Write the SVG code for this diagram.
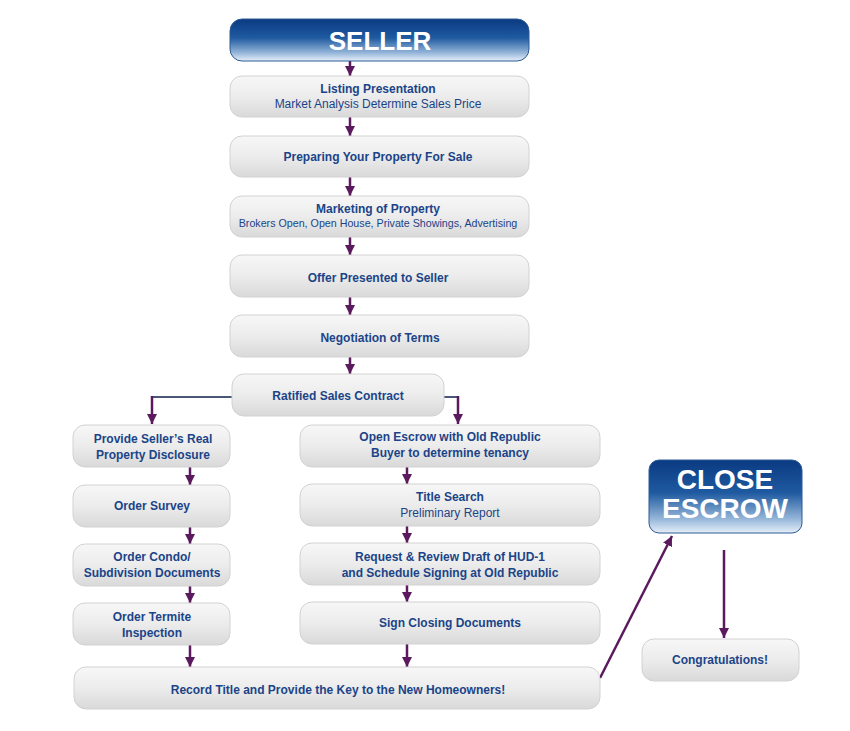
<svg xmlns="http://www.w3.org/2000/svg" width="850" height="731" viewBox="0 0 850 731">
<defs>
<linearGradient id="gray" x1="0" y1="0" x2="0" y2="1">
<stop offset="0" stop-color="#f7f7f7"/>
<stop offset="0.5" stop-color="#ececec"/>
<stop offset="1" stop-color="#d9d9d9"/>
</linearGradient>
<linearGradient id="blue" x1="0" y1="0" x2="0" y2="1">
<stop offset="0" stop-color="#0a3a82"/>
<stop offset="0.45" stop-color="#1f5aa0"/>
<stop offset="0.8" stop-color="#93b4d8"/>
<stop offset="1" stop-color="#e6eff8"/>
</linearGradient>
<marker id="ah" markerUnits="userSpaceOnUse" viewBox="0 0 10 10" refX="10" refY="5" markerWidth="10" markerHeight="11" orient="auto">
<path d="M0,0 L10,5 L0,10 z" fill="#5b1a5e"/>
</marker>
<style>
.box{fill:url(#gray);stroke:#d2d2d2;stroke-width:1}
.bbox{fill:url(#blue);stroke:#2d5a96;stroke-width:1}
.t{font-family:"Liberation Sans",Arial,sans-serif;font-size:12px;fill:#1b4488;text-anchor:middle}
.s{font-size:10.7px}
.b{font-weight:bold}
.big{font-family:"Liberation Sans",Arial,sans-serif;font-weight:bold;fill:#ffffff;text-anchor:middle}
.arr{stroke:#5b1a5e;stroke-width:2.5;fill:none;marker-end:url(#ah)}
.hl{stroke:#4a5778;stroke-width:2;fill:none}
</style>
</defs>
<rect width="850" height="731" fill="#ffffff"/>

<g id="connectors">
<line class="arr" x1="350" y1="61" x2="350" y2="76"/>
<line class="arr" x1="350" y1="117" x2="350" y2="136"/>
<line class="arr" x1="350" y1="177" x2="350" y2="196"/>
<line class="arr" x1="350" y1="237" x2="350" y2="255"/>
<line class="arr" x1="350" y1="297" x2="350" y2="315"/>
<line class="arr" x1="350" y1="357" x2="350" y2="374"/>
<polyline class="hl" points="232,397 152,397"/>
<line class="arr" x1="152" y1="396" x2="152" y2="424"/>
<polyline class="hl" points="444,397 458,397"/>
<line class="arr" x1="458" y1="396" x2="458" y2="424"/>
<line class="arr" x1="190" y1="467" x2="190" y2="485"/>
<line class="arr" x1="190" y1="527" x2="190" y2="544"/>
<line class="arr" x1="190" y1="586" x2="190" y2="603"/>
<line class="arr" x1="190" y1="645" x2="190" y2="667"/>
<line class="arr" x1="407" y1="467" x2="407" y2="484"/>
<line class="arr" x1="407" y1="526" x2="407" y2="543"/>
<line class="arr" x1="407" y1="585" x2="407" y2="602"/>
<line class="arr" x1="407" y1="644" x2="407" y2="667"/>
<line class="arr" x1="600" y1="678" x2="672" y2="536"/>
<line class="arr" x1="724" y1="550" x2="724" y2="638"/>
</g>

<g id="seller">
<rect class="bbox" x="230" y="19" width="299" height="42" rx="12"/>
<text class="big" x="380" y="50" font-size="26">SELLER</text>
</g>
<g id="listing">
<rect class="box" x="230" y="76" width="299" height="41" rx="12"/>
<text class="t b" x="378" y="93">Listing Presentation</text>
<text class="t" x="378" y="108">Market Analysis Determine Sales Price</text>
</g>
<g id="preparing">
<rect class="box" x="230" y="136" width="299" height="41" rx="12"/>
<text class="t b" x="378" y="161">Preparing Your Property For Sale</text>
</g>
<g id="marketing">
<rect class="box" x="230" y="196" width="299" height="41" rx="12"/>
<text class="t b" x="378" y="213">Marketing of Property</text>
<text class="t s" x="378" y="227">Brokers Open, Open House, Private Showings, Advertising</text>
</g>
<g id="offer">
<rect class="box" x="230" y="255" width="299" height="42" rx="12"/>
<text class="t b" x="378" y="282">Offer Presented to Seller</text>
</g>
<g id="negotiation">
<rect class="box" x="230" y="315" width="299" height="42" rx="12"/>
<text class="t b" x="380" y="342">Negotiation of Terms</text>
</g>
<g id="ratified">
<rect class="box" x="232" y="374" width="212" height="42" rx="12"/>
<text class="t b" x="338" y="400">Ratified Sales Contract</text>
</g>
<g id="disclosure">
<rect class="box" x="73" y="425" width="157" height="42" rx="12"/>
<text class="t b" x="153" y="443">Provide Seller’s Real</text>
<text class="t b" x="153" y="459">Property Disclosure</text>
</g>
<g id="survey">
<rect class="box" x="73" y="485" width="157" height="42" rx="12"/>
<text class="t b" x="152" y="510">Order Survey</text>
</g>
<g id="condo">
<rect class="box" x="73" y="544" width="157" height="42" rx="12"/>
<text class="t b" x="152" y="561">Order Condo/</text>
<text class="t b" x="152" y="577">Subdivision Documents</text>
</g>
<g id="termite">
<rect class="box" x="73" y="603" width="157" height="42" rx="12"/>
<text class="t b" x="152" y="621">Order Termite</text>
<text class="t b" x="152" y="637">Inspection</text>
</g>
<g id="openescrow">
<rect class="box" x="300" y="425" width="300" height="42" rx="12"/>
<text class="t b" x="450" y="441">Open Escrow with Old Republic</text>
<text class="t b" x="450" y="457">Buyer to determine tenancy</text>
</g>
<g id="titlesearch">
<rect class="box" x="300" y="484" width="300" height="42" rx="12"/>
<text class="t b" x="450" y="501">Title Search</text>
<text class="t" x="450" y="517">Preliminary Report</text>
</g>
<g id="hud">
<rect class="box" x="300" y="543" width="300" height="42" rx="12"/>
<text class="t b" x="450" y="561">Request &amp; Review Draft of HUD-1</text>
<text class="t b" x="450" y="577">and Schedule Signing at Old Republic</text>
</g>
<g id="signclosing">
<rect class="box" x="300" y="602" width="300" height="42" rx="12"/>
<text class="t b" x="450" y="627">Sign Closing Documents</text>
</g>
<g id="record">
<rect class="box" x="74" y="667" width="526" height="42" rx="12"/>
<text class="t b" x="338" y="694">Record Title and Provide the Key to the New Homeowners!</text>
</g>
<g id="closeescrow">
<rect class="bbox" x="649" y="460" width="153" height="73" rx="10"/>
<text class="big" x="725" y="489" font-size="28">CLOSE</text>
<text class="big" x="725" y="518" font-size="28">ESCROW</text>
</g>
<g id="congrats">
<rect class="box" x="642" y="639" width="157" height="42" rx="12"/>
<text class="t b" x="720" y="664">Congratulations!</text>
</g>
</svg>
